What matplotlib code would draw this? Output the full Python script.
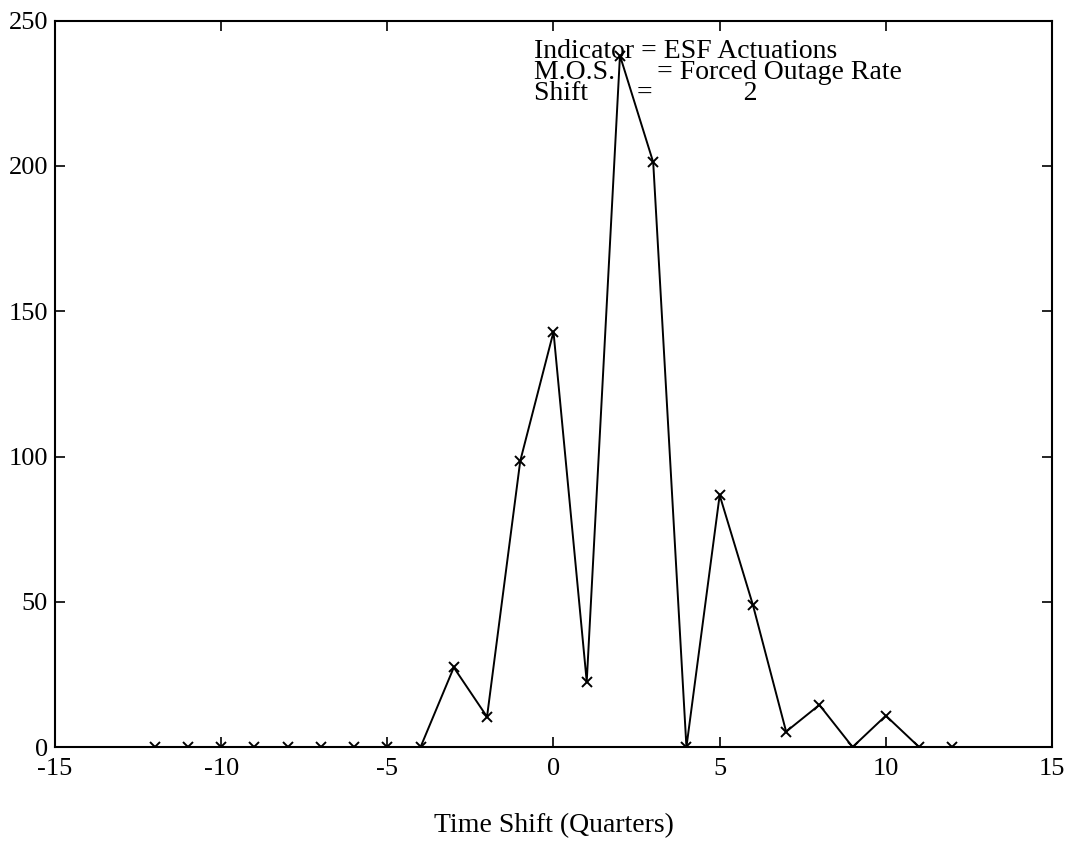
import numpy as np
import matplotlib
matplotlib.use("Agg")
import matplotlib.pyplot as plt

# ESF actuations vs. forced outage rate, cross-correlated over time shifts
shift_quarters = list(range(-12, 13))
correlation = [0, 0, 0, 0, 0, 0, 0, 0, 0,
               27.4, 10.4, 98.5, 142.9, 22.5, 238, 201.3, 0,
               86.7, 48.9, 5.3, 14.5, 0, 10.8, 0, 0]

x_ticks = [-15, -10, -5, 0, 5, 10, 15]
y_ticks = [0, 50, 100, 150, 200, 250]

# run parameters printed in the corner of the plot
info_lines = [
    "Indicator = ESF Actuations",
    "M.O.S." + " " * 6 + "= Forced Outage Rate",
    "Shift" + " " * 7 + "=" + " " * 13 + "2",
]

plt.rcParams["font.family"] = ["Liberation Serif", "DejaVu Serif"]
plt.rcParams["axes.unicode_minus"] = False

fig = plt.figure(figsize=(10.76, 8.52), dpi=100)
ax = fig.add_axes([0.0511, 0.1232, 0.9266, 0.8525])

ax.plot(shift_quarters, correlation, color="black", lw=1.4,
        marker="x", ms=6.5, mew=1.4)

ax.set_xlim(-15, 15)
ax.set_ylim(0, 250)
ax.set_xticks(x_ticks)
ax.set_yticks(y_ticks)
ax.tick_params(direction="in", length=7, width=1.2, top=True, right=True,
               labelsize=19)
ax.tick_params(axis="x", pad=8)
ax.tick_params(axis="y", pad=5)
for side in ax.spines.values():
    side.set_linewidth(1.5)

ax.set_xlabel("Time Shift (Quarters)", fontsize=20, labelpad=24)

# baseline of the last line sits at 222.6
ax.text(-0.6, 222.6, "\n".join(info_lines), fontsize=20,
        va="baseline", ha="left", linespacing=0.8)

fig.savefig("out.png", dpi=100)
